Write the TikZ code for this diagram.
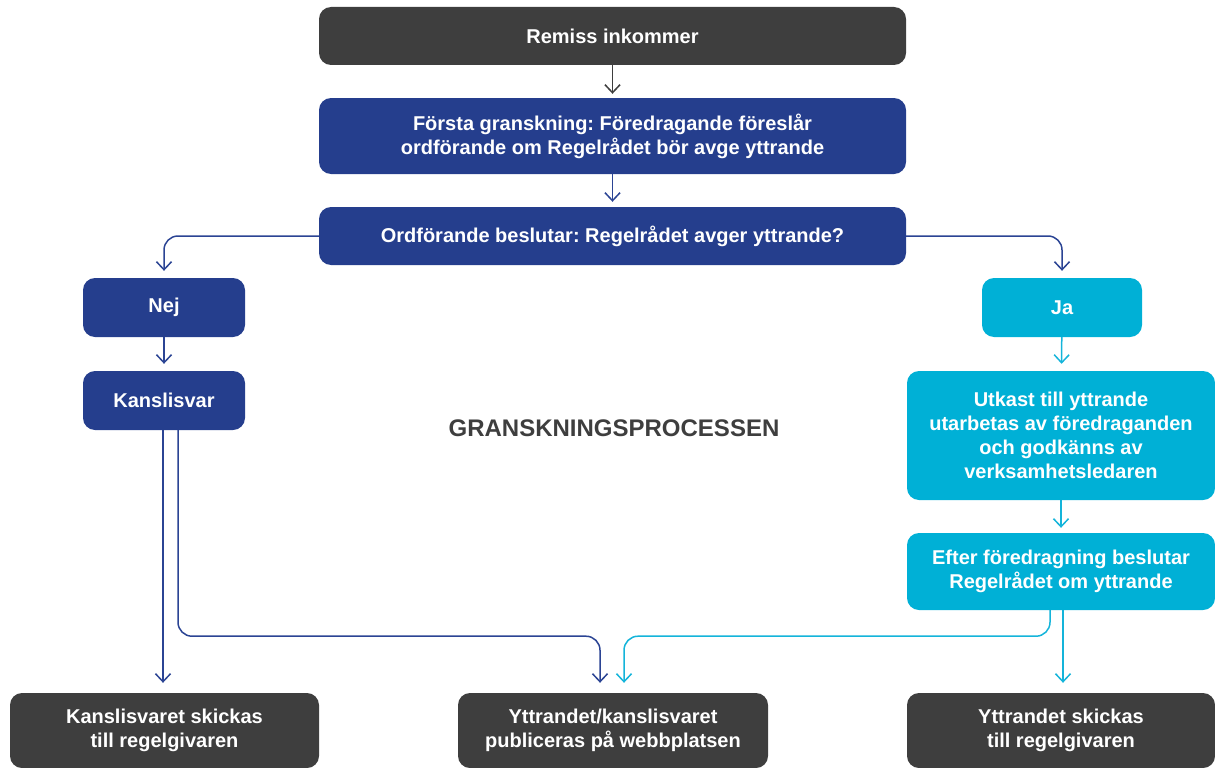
\documentclass[tikz,border=0pt]{standalone}
\usepackage{fontspec}
\setmainfont{Liberation Sans}
\usetikzlibrary{arrows.meta}
\frenchspacing
\definecolor{dgray}{HTML}{3E3E3E}
\definecolor{navy}{HTML}{253E8D}
\definecolor{navyline}{HTML}{2B4494}
\definecolor{cyanb}{HTML}{00B0D6}
\definecolor{cyanline}{HTML}{14B4DA}
\tikzset{
  box/.style={rounded corners=12pt, inner sep=0pt, text=white, align=center,
    font=\fontsize{20}{24}\selectfont\bfseries},
  graybox/.style={box, fill=dgray},
  navybox/.style={box, fill=navy},
  cyanbox/.style={box, fill=cyanb},
  conn/.style={line width=1.5pt, rounded corners=14pt,
    -{Straight Barb[length=8pt,width=15pt,line width=1.5pt]}},
}
\begin{document}
\frenchspacing
\begin{tikzpicture}[x=1pt,y=-1pt]
\useasboundingbox (0,0) rectangle (1215,768);
\node[graybox, minimum width=587pt, minimum height=58pt] (remiss) at (612.5,36) {Remiss inkommer};
\node[navybox, minimum width=587pt, minimum height=76pt] (forsta) at (612.5,136) {Första granskning: Föredragande föreslår\\ordförande om Regelrådet bör avge yttrande};
\node[navybox, minimum width=587pt, minimum height=58pt] (ordf) at (612.5,236) {Ordförande beslutar: Regelrådet avger yttrande?};
\node[navybox, minimum width=162pt, minimum height=59pt] (nej) at (164,307.5) {Nej};
\node[cyanbox, minimum width=160pt, minimum height=59pt] (ja) at (1062,307.5) {Ja};
\node[navybox, minimum width=162pt, minimum height=59pt] (kansli) at (164,400.5) {Kanslisvar};
\node[cyanbox, minimum width=308pt, minimum height=129pt] (utkast) at (1061,435.5) {Utkast till yttrande\\utarbetas av föredraganden\\och godkänns av\\verksamhetsledaren};
\node[cyanbox, minimum width=308pt, minimum height=77pt] (efter) at (1061,571.5) {Efter föredragning beslutar\\Regelrådet om yttrande};
\node[graybox, minimum width=309pt, minimum height=75pt] (out1) at (164.5,730.5) {Kanslisvaret skickas\\till regelgivaren};
\node[graybox, minimum width=310pt, minimum height=75pt] (pub) at (613,730.5) {Yttrandet/kanslisvaret\\publiceras på webbplatsen};
\node[graybox, minimum width=308pt, minimum height=75pt] (out3) at (1061,730.5) {Yttrandet skickas\\till regelgivaren};
\node[text=dgray, font=\fontsize{24}{28}\selectfont\bfseries] (title) at (614,428) {GRANSKNINGSPROCESSEN};

\draw[conn, dgray, shorten >=4pt] (remiss) -- (forsta);
\draw[conn, navyline, shorten >=5pt] (forsta) -- (ordf);
\draw[conn, navyline, shorten >=7pt] (ordf.west) -| (nej.north);
\draw[conn, navyline, shorten >=7pt] (ordf.east) -| (ja.north);
\draw[conn, navyline, shorten >=7pt] (nej) -- (kansli);
\draw[conn, cyanline, shorten >=7pt] (ja) -- (utkast);
\draw[conn, cyanline, shorten >=5pt] (utkast) -- (efter);
\draw[conn, navyline, shorten >=10pt] ([xshift=-1pt]kansli.south) -- ([xshift=-1pt]kansli.south |- out1.north);
\draw[conn, navyline, shorten >=10pt] ([xshift=14pt]kansli.south) -- ++(0,206) -| ([xshift=-13pt]pub.north);
\draw[conn, cyanline, shorten >=10pt] ([xshift=-11pt]efter.south) -- ++(0,26) -| ([xshift=11pt]pub.north);
\draw[conn, cyanline, shorten >=10pt] ([xshift=2pt]efter.south) -- ([xshift=2pt]efter.south |- out3.north);
\end{tikzpicture}
\end{document}
